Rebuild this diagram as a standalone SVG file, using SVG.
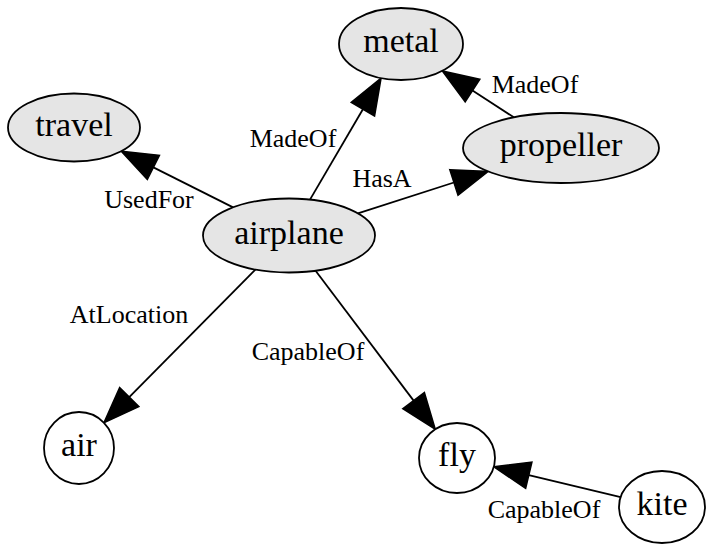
<svg xmlns="http://www.w3.org/2000/svg" width="706" height="547" viewBox="0 0 706 547">
<style>
.node ellipse{stroke:#000;stroke-width:1.8}
.grey ellipse{fill:#e5e5e5}
.white ellipse{fill:#fff}
.node text{font-family:"Liberation Serif","Times New Roman",serif;font-size:34px;text-anchor:middle;fill:#000}
.edge line{stroke:#000;stroke-width:1.8;fill:none}
.edge text{font-family:"Liberation Serif","Times New Roman",serif;font-size:26px;text-anchor:middle;fill:#000}
</style>
<defs>
<marker id="arr" markerUnits="userSpaceOnUse" markerWidth="40" markerHeight="30" viewBox="0 -15 40 30" refX="0" refY="0" orient="auto" overflow="visible">
<polygon points="0,-13.5 36,0 0,13.5" fill="#000" stroke="#000" stroke-width="1.5"/>
</marker>
</defs>
<rect width="706" height="547" fill="#fff"/>
<g id="edges">
<g class="edge" id="e_airplane_travel"><line x1="233.1" y1="207.4" x2="153.4" y2="167.4" marker-end="url(#arr)"/><text x="149" y="208">UsedFor</text></g>
<g class="edge" id="e_airplane_metal"><line x1="310" y1="199.6" x2="362.9" y2="109.2" marker-end="url(#arr)"/><text x="293" y="147">MadeOf</text></g>
<g class="edge" id="e_propeller_metal"><line x1="513.8" y1="117.3" x2="472.5" y2="90.5" marker-end="url(#arr)"/><text x="535" y="93">MadeOf</text></g>
<g class="edge" id="e_airplane_propeller"><line x1="357.9" y1="213.3" x2="453.9" y2="182.5" marker-end="url(#arr)"/><text x="382" y="187">HasA</text></g>
<g class="edge" id="e_airplane_air"><line x1="255.35" y1="269.55" x2="129.25" y2="397.15" marker-end="url(#arr)"/><text x="129" y="323">AtLocation</text></g>
<g class="edge" id="e_airplane_fly"><line x1="315.6" y1="270.7" x2="413.6" y2="400.6" marker-end="url(#arr)"/><text x="308" y="360">CapableOf</text></g>
<g class="edge" id="e_kite_fly"><line x1="620.65" y1="497.1" x2="528.8" y2="475.2" marker-end="url(#arr)"/><text x="544" y="518">CapableOf</text></g>
</g>
<g class="node grey" id="metal"><ellipse cx="401" cy="44" rx="62" ry="36"/><text x="401" y="52">metal</text></g>
<g class="node grey" id="travel"><ellipse cx="74" cy="127.5" rx="66" ry="34"/><text x="74" y="135.5">travel</text></g>
<g class="node grey" id="propeller"><ellipse cx="561" cy="148" rx="98" ry="35"/><text x="561" y="156">propeller</text></g>
<g class="node grey" id="airplane"><ellipse cx="289" cy="235.5" rx="86" ry="37"/><text x="289" y="243.5">airplane</text></g>
<g class="node white" id="air"><ellipse cx="79" cy="448" rx="35" ry="36"/><text x="79" y="456">air</text></g>
<g class="node white" id="fly"><ellipse cx="457" cy="458" rx="38" ry="35"/><text x="457" y="466">fly</text></g>
<g class="node white" id="kite"><ellipse cx="662" cy="507" rx="43" ry="36"/><text x="662" y="515">kite</text></g>
</svg>
